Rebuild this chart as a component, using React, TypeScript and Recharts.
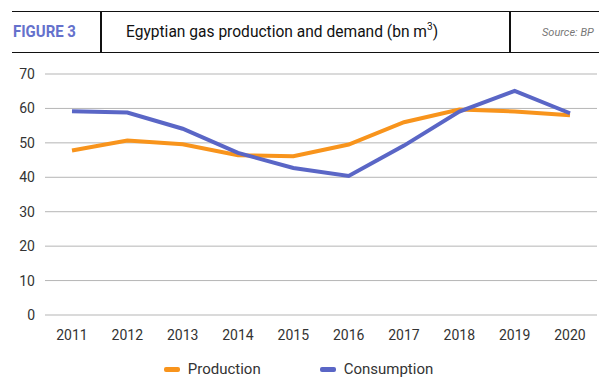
import { CartesianGrid, Legend, Line, LineChart, XAxis, YAxis } from 'recharts';

const years = ['2011', '2012', '2013', '2014', '2015', '2016', '2017', '2018', '2019', '2020'];
const production = [47.8, 50.7, 49.6, 46.4, 46.1, 49.5, 56.0, 59.7, 59.1, 58.0];
const consumption = [59.2, 58.8, 54.1, 47.1, 42.7, 40.4, 49.2, 59.1, 65.1, 58.6];
const yTicks = [0, 10, 20, 30, 40, 50, 60, 70];

const ORANGE = '#F8941C';
const BLUE = '#5A66C6';

const data = years.map((year, i) => ({
  year,
  production: production[i],
  consumption: consumption[i],
}));

const legendItems = [
  { key: 'production', label: 'Production', color: ORANGE },
  { key: 'consumption', label: 'Consumption', color: BLUE },
];

function ChartLegend() {
  return (
    <div style={{ display: 'flex', justifyContent: 'center', gap: 59, height: 20, alignItems: 'center' }}>
      {legendItems.map(item => (
        <div key={item.key} style={{ display: 'flex', alignItems: 'center', gap: 8 }}>
          <span style={{ width: 16, height: 5, borderRadius: 2, background: item.color, display: 'inline-block' }} />
          <span style={{ fontSize: 15, color: '#333' }}>{item.label}</span>
        </div>
      ))}
    </div>
  );
}

export default function App() {
  return (
    <div
      style={{
        position: 'absolute',
        left: 0,
        top: 0,
        width: 608,
        height: 392,
        background: '#fff',
        fontFamily: 'Roboto, sans-serif',
      }}
    >
      {/* header band */}
      <div style={{ position: 'absolute', left: 12, right: 9, top: 11, height: 40, borderTop: '1.5px solid #111', borderBottom: '1.5px solid #111' }} />
      <div style={{ position: 'absolute', left: 100, top: 11, width: 1.5, height: 41, background: '#111' }} />
      <div style={{ position: 'absolute', left: 509, top: 11, width: 1.5, height: 41, background: '#111' }} />
      <div
        style={{
          position: 'absolute',
          left: 13,
          top: 21,
          fontWeight: 700,
          fontSize: 17,
          color: '#6571CC',
          transform: 'scaleX(0.88)',
          transformOrigin: 'left center',
          whiteSpace: 'nowrap',
        }}
      >
        FIGURE 3
      </div>
      <div
        style={{
          position: 'absolute',
          left: 126,
          top: 20,
          fontSize: 17,
          color: '#111',
          whiteSpace: 'nowrap',
          transform: 'scaleX(0.915)',
          transformOrigin: 'left center',
        }}
      >
        Egyptian gas production and demand (bn m<sup style={{ fontSize: 11 }}>3</sup>)
      </div>
      <div
        style={{
          position: 'absolute',
          left: 542,
          top: 26,
          fontSize: 11,
          fontStyle: 'italic',
          color: '#777',
        }}
      >
        Source: BP
      </div>

      <LineChart
        width={608}
        height={392}
        data={data}
        margin={{ top: 74, right: 11, bottom: 13, left: 0 }}
      >
        <CartesianGrid vertical={false} stroke="#b5b5b5" />
        <XAxis
          dataKey="year"
          axisLine={false}
          tickLine={false}
          height={44}
          tickMargin={9}
          padding={{ left: 27, right: 27 }}
          tick={{ fontSize: 14, fill: '#333' }}
          interval={0}
        />
        <YAxis
          width={45}
          domain={[0, 70]}
          ticks={yTicks}
          axisLine={false}
          tickLine={false}
          tickMargin={4}
          tick={{ fontSize: 14, fill: '#333' }}
        />
        <Legend verticalAlign="bottom" height={20} content={<ChartLegend />} />
        <Line
          type="linear"
          dataKey="production"
          stroke={ORANGE}
          strokeWidth={4}
          dot={false}
          isAnimationActive={false}
        />
        <Line
          type="linear"
          dataKey="consumption"
          stroke={BLUE}
          strokeWidth={4}
          dot={false}
          isAnimationActive={false}
        />
      </LineChart>
    </div>
  );
}
